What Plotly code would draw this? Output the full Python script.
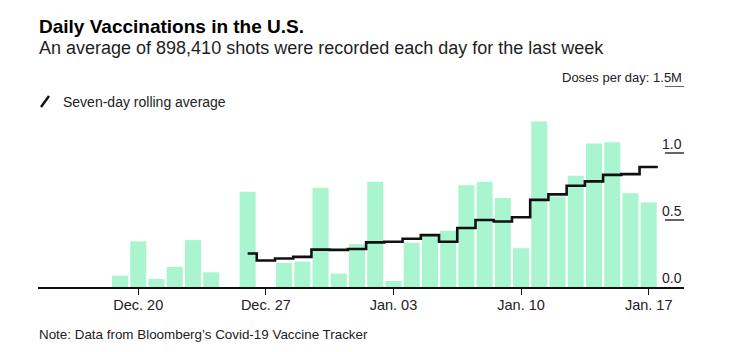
import plotly.graph_objects as go
import pandas as pd

# ---- data ----
bar_dates = ["2020-12-19", "2020-12-20", "2020-12-21", "2020-12-22", "2020-12-23", "2020-12-24",
             "2020-12-26", "2020-12-28", "2020-12-29", "2020-12-30", "2020-12-31",
             "2021-01-01", "2021-01-02", "2021-01-03", "2021-01-04", "2021-01-05", "2021-01-06",
             "2021-01-07", "2021-01-08", "2021-01-09", "2021-01-10", "2021-01-11", "2021-01-12",
             "2021-01-13", "2021-01-14", "2021-01-15", "2021-01-16", "2021-01-17"]
daily_doses_m = [0.085, 0.34, 0.06, 0.15, 0.35, 0.11,
                 0.71, 0.18, 0.19, 0.74, 0.10,
                 0.32, 0.785, 0.045, 0.33, 0.39, 0.42,
                 0.76, 0.785, 0.665, 0.29, 1.235, 0.675,
                 0.83, 1.07, 1.08, 0.70, 0.63]

avg_start = "2020-12-26"
rolling_avg_m = [0.25, 0.198, 0.213, 0.225, 0.279, 0.277, 0.284, 0.333, 0.338, 0.36, 0.387,
                 0.338, 0.44, 0.50, 0.489, 0.52, 0.65, 0.691, 0.756, 0.788, 0.837, 0.842, 0.895]

tick_dates = ["2020-12-20", "2020-12-27", "2021-01-03", "2021-01-10", "2021-01-17"]
tick_labels = ["Dec. 20", "Dec. 27", "Jan. 03", "Jan. 10", "Jan. 17"]

y_tick_vals = [0.0, 0.5, 1.0]
y_tick_text = ["0.0", "0.5", "1.0"]
y_top_val = 1.5
y_top_text = "Doses per day: 1.5M"

title = "Daily Vaccinations in the U.S."
subtitle = "An average of 898,410 shots were recorded each day for the last week"
legend_text = "Seven-day rolling average"
note = "Note: Data from Bloomberg\u2019s Covid-19 Vaccine Tracker"

# ---- layout geometry ----
W, H = 732, 352
L, R, T, B = 38, 48, 86, 65
PW, PH = W - L - R, H - T - B
base_y = T + PH


def px_x(px):
    return (px - L) / PW


def px_y(py):
    return (base_y - py) / PH


FONT = "Liberation Sans, Arial, sans-serif"

# step line positions: each day's value spans its own day slot
d0 = pd.Timestamp(avg_start)
avg_days = [d0 + pd.Timedelta(days=k) for k in range(len(rolling_avg_m))]
line_x = [avg_days[0]] + [d - pd.Timedelta(hours=12) for d in avg_days[1:]] + [avg_days[-1] + pd.Timedelta(hours=12)]
line_y = list(rolling_avg_m) + [rolling_avg_m[-1]]

fig = go.Figure()
fig.add_trace(go.Bar(x=pd.to_datetime(bar_dates), y=daily_doses_m,
                     marker=dict(color="#a9f5d0", line=dict(width=0)),
                     hoverinfo="skip"))
fig.add_trace(go.Scatter(x=line_x, y=line_y, mode="lines",
                         line=dict(color="#111111", width=2.6, shape="hv"),
                         hoverinfo="skip"))

annotations = []
shapes = []

# title / subtitle
annotations.append(dict(text="<b>" + title + "</b>", x=px_x(37), y=px_y(26), xref="paper", yref="paper",
                        xanchor="left", yanchor="middle", showarrow=False,
                        font=dict(family=FONT, size=19, color="#000000")))
annotations.append(dict(text=subtitle, x=px_x(37), y=px_y(48), xref="paper", yref="paper",
                        xanchor="left", yanchor="middle", showarrow=False,
                        font=dict(family=FONT, size=18, color="#1e1e1e")))
# legend
annotations.append(dict(text=legend_text, x=px_x(61), y=px_y(101.5), xref="paper", yref="paper",
                        xanchor="left", yanchor="middle", showarrow=False,
                        font=dict(family=FONT, size=14, color="#222222")))
shapes.append(dict(type="line", xref="paper", yref="paper", x0=px_x(41), y0=px_y(107), x1=px_x(49), y1=px_y(96),
                   line=dict(color="#111111", width=2.4)))
# note
annotations.append(dict(text=note, x=px_x(37), y=px_y(334), xref="paper", yref="paper",
                        xanchor="left", yanchor="middle", showarrow=False,
                        font=dict(family=FONT, size=13.4, color="#222222")))

# y labels sitting on short underlines
for v, t in zip(y_tick_vals + [y_top_val], y_tick_text + [y_top_text]):
    annotations.append(dict(text=t, x=1, y=v, xref="paper", yref="y", xanchor="right", yanchor="middle",
                            yshift=9, showarrow=False, font=dict(family=FONT, size=14 if v < y_top_val else 13,
                                                                  color="#222222")))
    if v > 0:
        shapes.append(dict(type="line", xref="paper", yref="y", x0=px_x(665), x1=1, y0=v, y1=v,
                           line=dict(color="#111111", width=1.3)))

fig.update_layout(
    width=W, height=H,
    margin=dict(l=L, r=R, t=T, b=B, pad=0),
    paper_bgcolor="white", plot_bgcolor="white",
    showlegend=False,
    bargap=0.12,
    annotations=annotations,
    shapes=shapes,
    xaxis=dict(type="date", range=["2020-12-14 12:00", "2021-01-18 22:30"],
               tickvals=pd.to_datetime(tick_dates), ticktext=tick_labels,
               ticks="outside", ticklen=6, tickwidth=1.3, tickcolor="#111111",
               ticklabelstandoff=-2,
               showline=True, linecolor="#111111", linewidth=1.5,
               showgrid=False, zeroline=False,
               tickfont=dict(family=FONT, size=14.5, color="#222222")),
    yaxis=dict(range=[0, y_top_val], showticklabels=False, showgrid=False, zeroline=False,
               showline=False, ticks=""),
)

fig.write_html("out.html")
